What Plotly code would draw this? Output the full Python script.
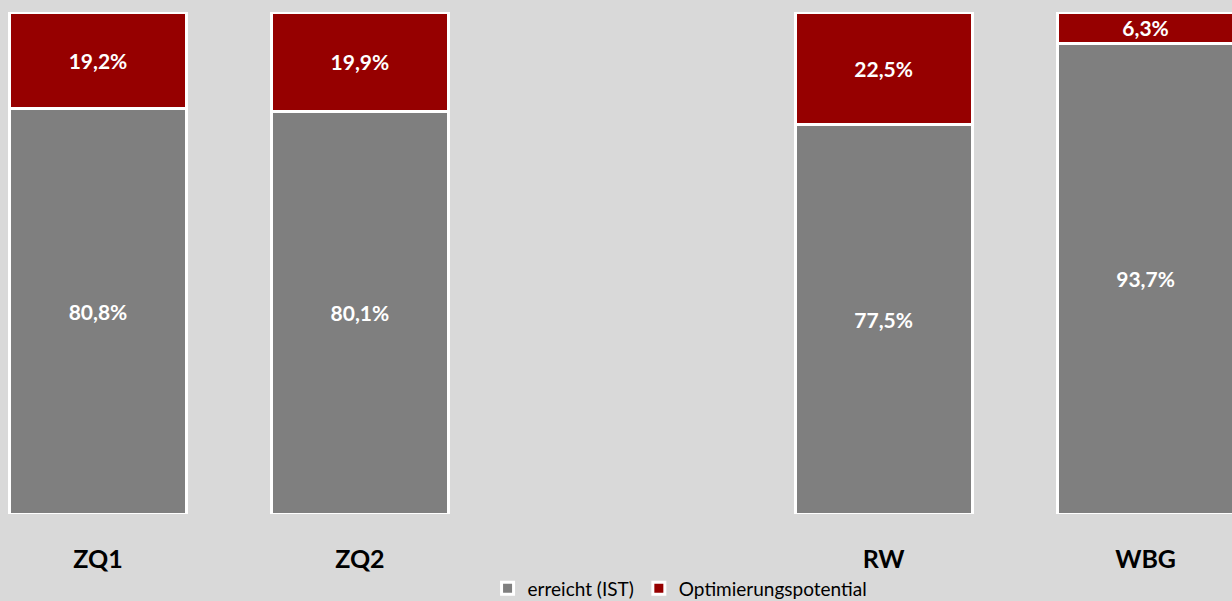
import plotly.graph_objects as go

# categories (the blank one keeps the gap between ZQ2 and RW)
categories = ["ZQ1", "ZQ2", " ", "RW", "WBG"]
erreicht = [0.808, 0.801, None, 0.775, 0.937]
optimierung = [0.192, 0.199, None, 0.225, 0.063]

grey = "#7f7f7f"
red = "#960000"
bg = "#d9d9d9"

fig = go.Figure()
fig.add_trace(go.Bar(
    x=categories, y=erreicht, name="erreicht (IST)",
    marker=dict(color=grey, line=dict(color="white", width=3)),
    width=0.675,
    texttemplate="%{y:.1%}", textposition="inside", insidetextanchor="middle",
    textfont=dict(color="white", size=21, family="Lato", weight="bold"),
))
fig.add_trace(go.Bar(
    x=categories, y=optimierung, name="Optimierungspotential",
    marker=dict(color=red, line=dict(color="white", width=3)),
    width=0.675,
    texttemplate="%{y:.1%}", textposition="inside", insidetextanchor="middle",
    textfont=dict(color="white", size=21, family="Lato", weight="bold"),
))

fig.update_layout(
    barmode="stack",
    separators=",.",
    width=1232, height=601,
    margin=dict(l=0, r=0, t=12, b=87, autoexpand=False),
    paper_bgcolor=bg, plot_bgcolor=bg,
    font=dict(family="Lato", color="black"),
    showlegend=True,
    legend=dict(orientation="h", x=0.552, xanchor="center", y=-0.148, yanchor="middle",
                font=dict(size=19), itemclick=False, traceorder="normal",
                bgcolor="rgba(0,0,0,0)"),
    uniformtext=dict(mode=False),
)
fig.update_xaxes(type="category", range=[-0.374, 4.33], showgrid=False, zeroline=False,
                 showline=False, ticks="", ticklabelstandoff=28, automargin=False,
                 tickfont=dict(size=25, family="Lato", weight="bold", color="black"))
fig.update_yaxes(range=[0, 1], visible=False, showgrid=False, zeroline=False)

# drop the default page margin so the figure fills the window
fig.write_html("out.html", config={"displayModeBar": False},
               post_script="document.body.style.margin='0';")
